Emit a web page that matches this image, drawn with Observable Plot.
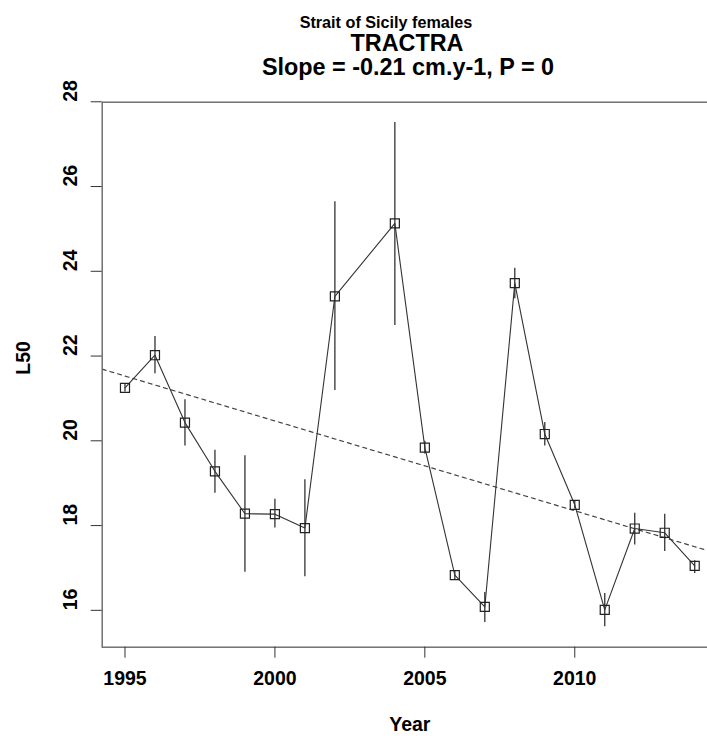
<!DOCTYPE html>
<html>
<head>
<meta charset="utf-8">
<script src="https://cdn.jsdelivr.net/npm/d3@7"></script>
<script src="https://cdn.jsdelivr.net/npm/@observablehq/plot@0.6"></script>
<style>
  html, body { margin: 0; padding: 0; background: #fff; overflow: hidden; }
  #wrap { width: 707px; height: 740px; overflow: hidden; position: relative; }
  #titles { position: relative; width: 707px; height: 80px; font-family: "Liberation Sans", Arial, sans-serif; font-weight: bold; color: #000; }
  #titles div { position: absolute; text-align: center; line-height: 0.85; white-space: nowrap; }
  #chart svg { display: block; max-width: none !important; height: 660px !important; overflow: visible; }
</style>
</head>
<body>
<div id="wrap">
  <div id="titles">
    <div id="t1" style="left:0;width:772px;top:15.5px;font-size:16.2px;">Strait of Sicily females</div>
    <div id="t2" style="left:0;width:814px;top:33.75px;font-size:23.4px;">TRACTRA</div>
    <div id="t3" style="left:0;width:816px;top:57.95px;font-size:23.4px;">Slope = -0.21 cm.y-1, P = 0</div>
  </div>
  <div id="chart"></div>
</div>
<script>
// Data
const years = [1995, 1996, 1997, 1998, 1999, 2000, 2001, 2002, 2004, 2005, 2006, 2007, 2008, 2009, 2010, 2011, 2012, 2013, 2014];
const l50   = [21.25, 22.02, 20.43, 19.28, 18.28, 18.27, 17.94, 23.41, 25.13, 19.84, 16.83, 16.08, 23.72, 20.16, 18.49, 16.01, 17.93, 17.83, 17.05];
const lower = [21.15, 21.58, 19.88, 18.76, 16.90, 17.94, 16.79, 21.19, 22.72, 19.69, 16.73, 15.71, 23.35, 19.88, 18.39, 15.61, 17.54, 17.39, 16.87];
const upper = [21.35, 22.46, 20.97, 19.78, 19.65, 18.62, 19.08, 25.64, 27.51, 19.99, 16.93, 16.42, 24.07, 20.43, 18.59, 16.40, 18.29, 18.27, 17.17];

// Fitted trend (dashed), read at the plot edges
const trendYears = [1994.24, 2014.76];
const trendL50 = [21.69, 17.34];

const xTicks = [1995, 2000, 2005, 2010];
const yTicks = [16, 18, 20, 22, 24, 26, 28];
const xDomain = [1994.24, 2014.76];
const yDomain = [15.13, 27.99];

const data = years.map((y, i) => ({year: y, l50: l50[i], lo: lower[i], hi: upper[i]}));
const trend = trendYears.map((y, i) => ({year: y, l50: trendL50[i]}));

const font = {fontFamily: "Liberation Sans, Arial, sans-serif", fontWeight: "bold", fontSize: 19.5, fill: "#000"};

const chart = Plot.plot({
  width: 717,
  height: 660,
  marginTop: 21.7,
  marginBottom: 93.3,
  marginLeft: 101.7,
  marginRight: 0,
  style: {background: "#fff", maxWidth: "none", overflow: "visible"},
  x: {domain: xDomain},
  y: {domain: yDomain},
  marks: [
    Plot.line(trend, {x: "year", y: "l50", stroke: "#444", strokeWidth: 1.2, strokeDasharray: "4,4", clip: true}),
    Plot.ruleX(data, {x: "year", y1: "lo", y2: "hi", stroke: "#333", strokeWidth: 1.3}),
    Plot.line(data, {x: "year", y: "l50", stroke: "#333", strokeWidth: 1.1}),
    Plot.dot(data, {x: "year", y: "l50", symbol: "square", r: 5.1, stroke: "#222", strokeWidth: 1.2, fill: "none"}),
    Plot.frame({stroke: "#666", strokeWidth: 1.4}),
    Plot.axisX({ticks: xTicks, tickSize: 11, stroke: "#333", fill: "none", label: null}),
    Plot.axisY({ticks: yTicks, tickSize: 11, stroke: "#333", fill: "none", label: null}),
    Plot.text(xTicks, {x: d => d, text: d => String(d), frameAnchor: "bottom", dy: 37.8, ...font}),
    Plot.text(yTicks, {y: d => d, text: d => String(d), frameAnchor: "left", dx: -31.5, rotate: -90, ...font}),
    Plot.text(["Year"], {text: d => d, frameAnchor: "bottom", dy: 83.6, ...font}),
    Plot.text(["L50"], {text: d => d, frameAnchor: "left", dx: -78.4, rotate: -90, ...font})
  ]
});
document.getElementById("chart").appendChild(chart);
</script>
</body>
</html>
